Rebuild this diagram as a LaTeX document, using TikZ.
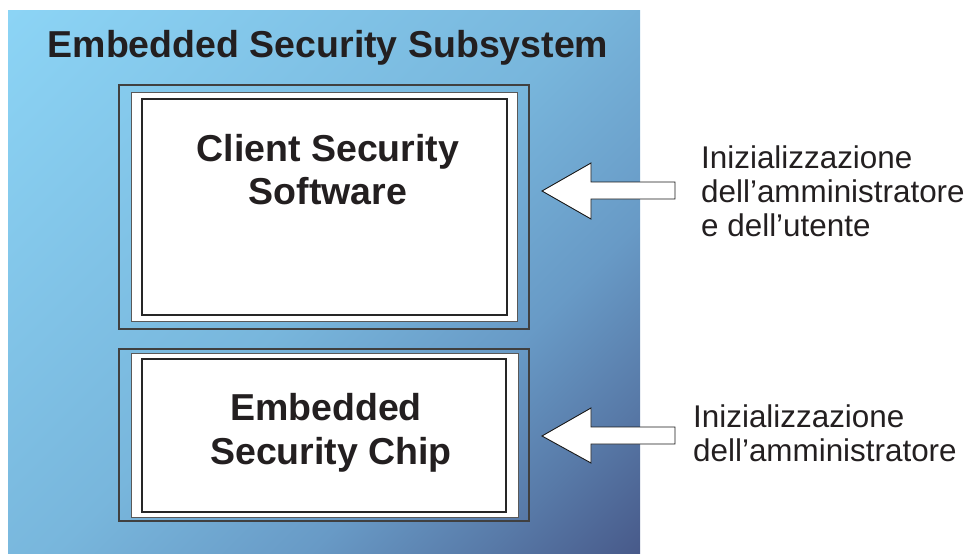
\documentclass[tikz,border=0pt]{standalone}
\usepackage{fontspec}
\setmainfont{Liberation Sans}
\definecolor{bgA}{RGB}{140,212,245}
\definecolor{bgB}{RGB}{120,182,220}
\definecolor{bgC}{RGB}{104,154,198}
\definecolor{bgD}{RGB}{88,122,168}
\definecolor{bgE}{RGB}{72,90,138}
\definecolor{ink}{HTML}{231F20}
\pgfdeclarehorizontalshading{bgshade}{100bp}{color(0bp)=(bgA); color(14.6bp)=(bgA); color(50bp)=(bgB); color(65.5bp)=(bgC); color(76bp)=(bgD); color(85.4bp)=(bgE); color(100bp)=(bgE)}
\tikzset{
  outerbox/.style={draw=black!75, line width=1.2pt, inner sep=0pt},
  whitebox/.style={draw=black!65, fill=white, line width=1pt, inner sep=0pt},
  innerbox/.style={draw=black!85, line width=1.1pt, inner sep=0pt},
  boldtxt/.style={font=\fontsize{37.5}{44}\selectfont\bfseries, text=ink, inner sep=0pt, anchor=base},
  labtxt/.style={font=\fontsize{31.4}{34}\selectfont, text=ink, inner sep=0pt, anchor=base west},
  blockarrow/.style={draw=black!90, fill=white, line width=0.9pt, line join=miter}
}
\begin{document}
\begin{tikzpicture}[x=1pt,y=-1pt]
\useasboundingbox (0,0) rectangle (972,554);
\shade[shading=bgshade, shading angle=-45] (8,10) rectangle (640,554);

\node[boldtxt] (title) at (328,57) {Embedded Security Subsystem};

% top box
\node[outerbox, minimum width=410pt, minimum height=244pt] (csoOut) at (324,207) {};
\node[whitebox, minimum width=386pt, minimum height=229pt] (csoWhite) at (324,206.5) {};
\node[innerbox, minimum width=365pt, minimum height=216pt] (cso) at (324.5,207) {};
\node[boldtxt] (csoL1) at (328,161) {Client Security};
\node[boldtxt] (csoL2) at (328,204) {Software};

% bottom box
\node[outerbox, minimum width=410pt, minimum height=172pt] (escOut) at (324,435) {};
\node[whitebox, minimum width=387pt, minimum height=164pt] (escWhite) at (324.5,435) {};
\node[innerbox, minimum width=364pt, minimum height=153pt] (esc) at (324,435.5) {};
\node[boldtxt] (escL1) at (326,420) {Embedded};
\node[boldtxt] (escL2) at (331,464) {Security Chip};

% arrows
\coordinate (tipA) at (542,191);
\coordinate (tipB) at (542,436);
\draw[blockarrow] (tipA) -- ++(49,-28) -- ++(0,19) -- ++(84,0) -- ++(0,17) -- ++(-84,0) -- ++(0,20) -- cycle;
\draw[blockarrow] (tipB) -- ++(49,-28) -- ++(0,19) -- ++(84,0) -- ++(0,17) -- ++(-84,0) -- ++(0,19) -- cycle;

% labels
\node[labtxt] (la1) at (701,168) {Inizializzazione};
\node[labtxt] (la2) at (701,202) {dell’amministratore};
\node[labtxt] (la3) at (701,236) {e dell’utente};
\node[labtxt] (lb1) at (693,427) {Inizializzazione};
\node[labtxt] (lb2) at (693,461) {dell’amministratore};
\end{tikzpicture}
\end{document}
